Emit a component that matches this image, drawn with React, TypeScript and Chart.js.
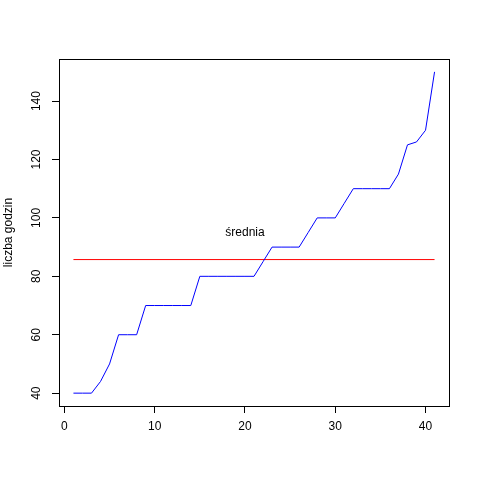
import React, { useEffect, useRef } from "react";
import { Chart, registerables } from "chart.js";

Chart.register(...registerables);

// Hours per person, sorted ascending (index 1..41)
const hours: number[] = [
  40, 40, 40, 44, 50, 60, 60, 60, 70, 70, 70, 70, 70, 70, 80, 80, 80, 80, 80, 80, 80,
  85, 90, 90, 90, 90, 95, 100, 100, 100, 105, 110, 110, 110, 110, 110, 115, 125, 126, 130, 150,
];
const xTicks: number[] = [0, 10, 20, 30, 40];
const yTicks: number[] = [40, 60, 80, 100, 120, 140];
const yTitle = "liczba godzin";
const meanLabel = "średnia";
const meanLabelPos = { x: 20, y: 95 };

const FONT = "'Liberation Sans', Arial, Helvetica, sans-serif";

export default function App() {
  const ref = useRef<HTMLCanvasElement | null>(null);

  useEffect(() => {
    if (!ref.current) return;
    const n = hours.length;
    const mean = hours.reduce((a, b) => a + b, 0) / n;
    const pts = hours.map((v, i) => ({ x: i + 1, y: v }));
    const xMin = 1, xMax = n;
    const yMin = Math.min(...hours), yMax = Math.max(...hours);
    const xPad = (xMax - xMin) * 0.04;
    const yPad = (yMax - yMin) * 0.04;

    Chart.defaults.font.family = FONT;
    Chart.defaults.font.size = 12;
    Chart.defaults.color = "#000";

    const boxAndText = {
      id: "boxAndText",
      afterDraw(chart: any) {
        const { ctx, chartArea: a, scales } = chart;
        ctx.save();
        ctx.strokeStyle = "#000";
        ctx.lineWidth = 1;
        ctx.strokeRect(Math.round(a.left) + 0.5, Math.round(a.top) + 0.5, Math.round(a.right - a.left), Math.round(a.bottom - a.top));
        ctx.fillStyle = "#000";
        ctx.font = `12px ${FONT}`;
        ctx.textAlign = "center";
        ctx.textBaseline = "middle";
        ctx.fillText(meanLabel, scales.x.getPixelForValue(meanLabelPos.x), scales.y.getPixelForValue(meanLabelPos.y));
        ctx.restore();
      },
    };

    const chart = new Chart(ref.current, {
      type: "line",
      data: {
        datasets: [
          {
            data: pts,
            borderColor: "#0000FF",
            borderWidth: 1,
            pointRadius: 0,
            tension: 0,
            fill: false,
          },
          {
            data: [
              { x: xMin, y: mean },
              { x: xMax, y: mean },
            ],
            borderColor: "#FF0000",
            borderWidth: 1,
            pointRadius: 0,
            fill: false,
          },
        ],
      },
      options: {
        responsive: false,
        animation: false,
        layout: { padding: { top: 59, right: 31, left: 0, bottom: 0 } },
        plugins: { legend: { display: false }, tooltip: { enabled: false } },
        scales: {
          x: {
            type: "linear",
            min: xMin - xPad,
            max: xMax + xPad,
            afterBuildTicks: (s: any) => {
              s.ticks = xTicks.map((v) => ({ value: v }));
            },
            afterFit: (s: any) => {
              s.height = 74;
            },
            grid: { drawOnChartArea: false, drawTicks: true, tickLength: 7, tickColor: "#000" },
            border: { display: false },
            ticks: { padding: 6, maxRotation: 0, autoSkip: false, color: "#000" },
          },
          y: {
            type: "linear",
            min: yMin - yPad,
            max: yMax + yPad,
            afterBuildTicks: (s: any) => {
              s.ticks = yTicks.map((v) => ({ value: v }));
            },
            afterFit: (s: any) => {
              s.width = 59;
            },
            grid: { drawOnChartArea: false, drawTicks: true, tickLength: 7, tickColor: "#000" },
            border: { display: false },
            ticks: { padding: 5, minRotation: 90, maxRotation: 90, crossAlign: "center", autoSkip: false, color: "#000" },
            title: { display: true, text: yTitle, color: "#000", padding: { top: 1.5, bottom: 0 } },
          },
        },
      },
      plugins: [boxAndText],
    } as any);
    return () => chart.destroy();
  }, []);

  return (
    <div style={{ position: "absolute", left: 0, top: 0, width: 480, height: 480, background: "#fff" }}>
      <canvas ref={ref} width={480} height={480} style={{ display: "block" }} />
    </div>
  );
}
